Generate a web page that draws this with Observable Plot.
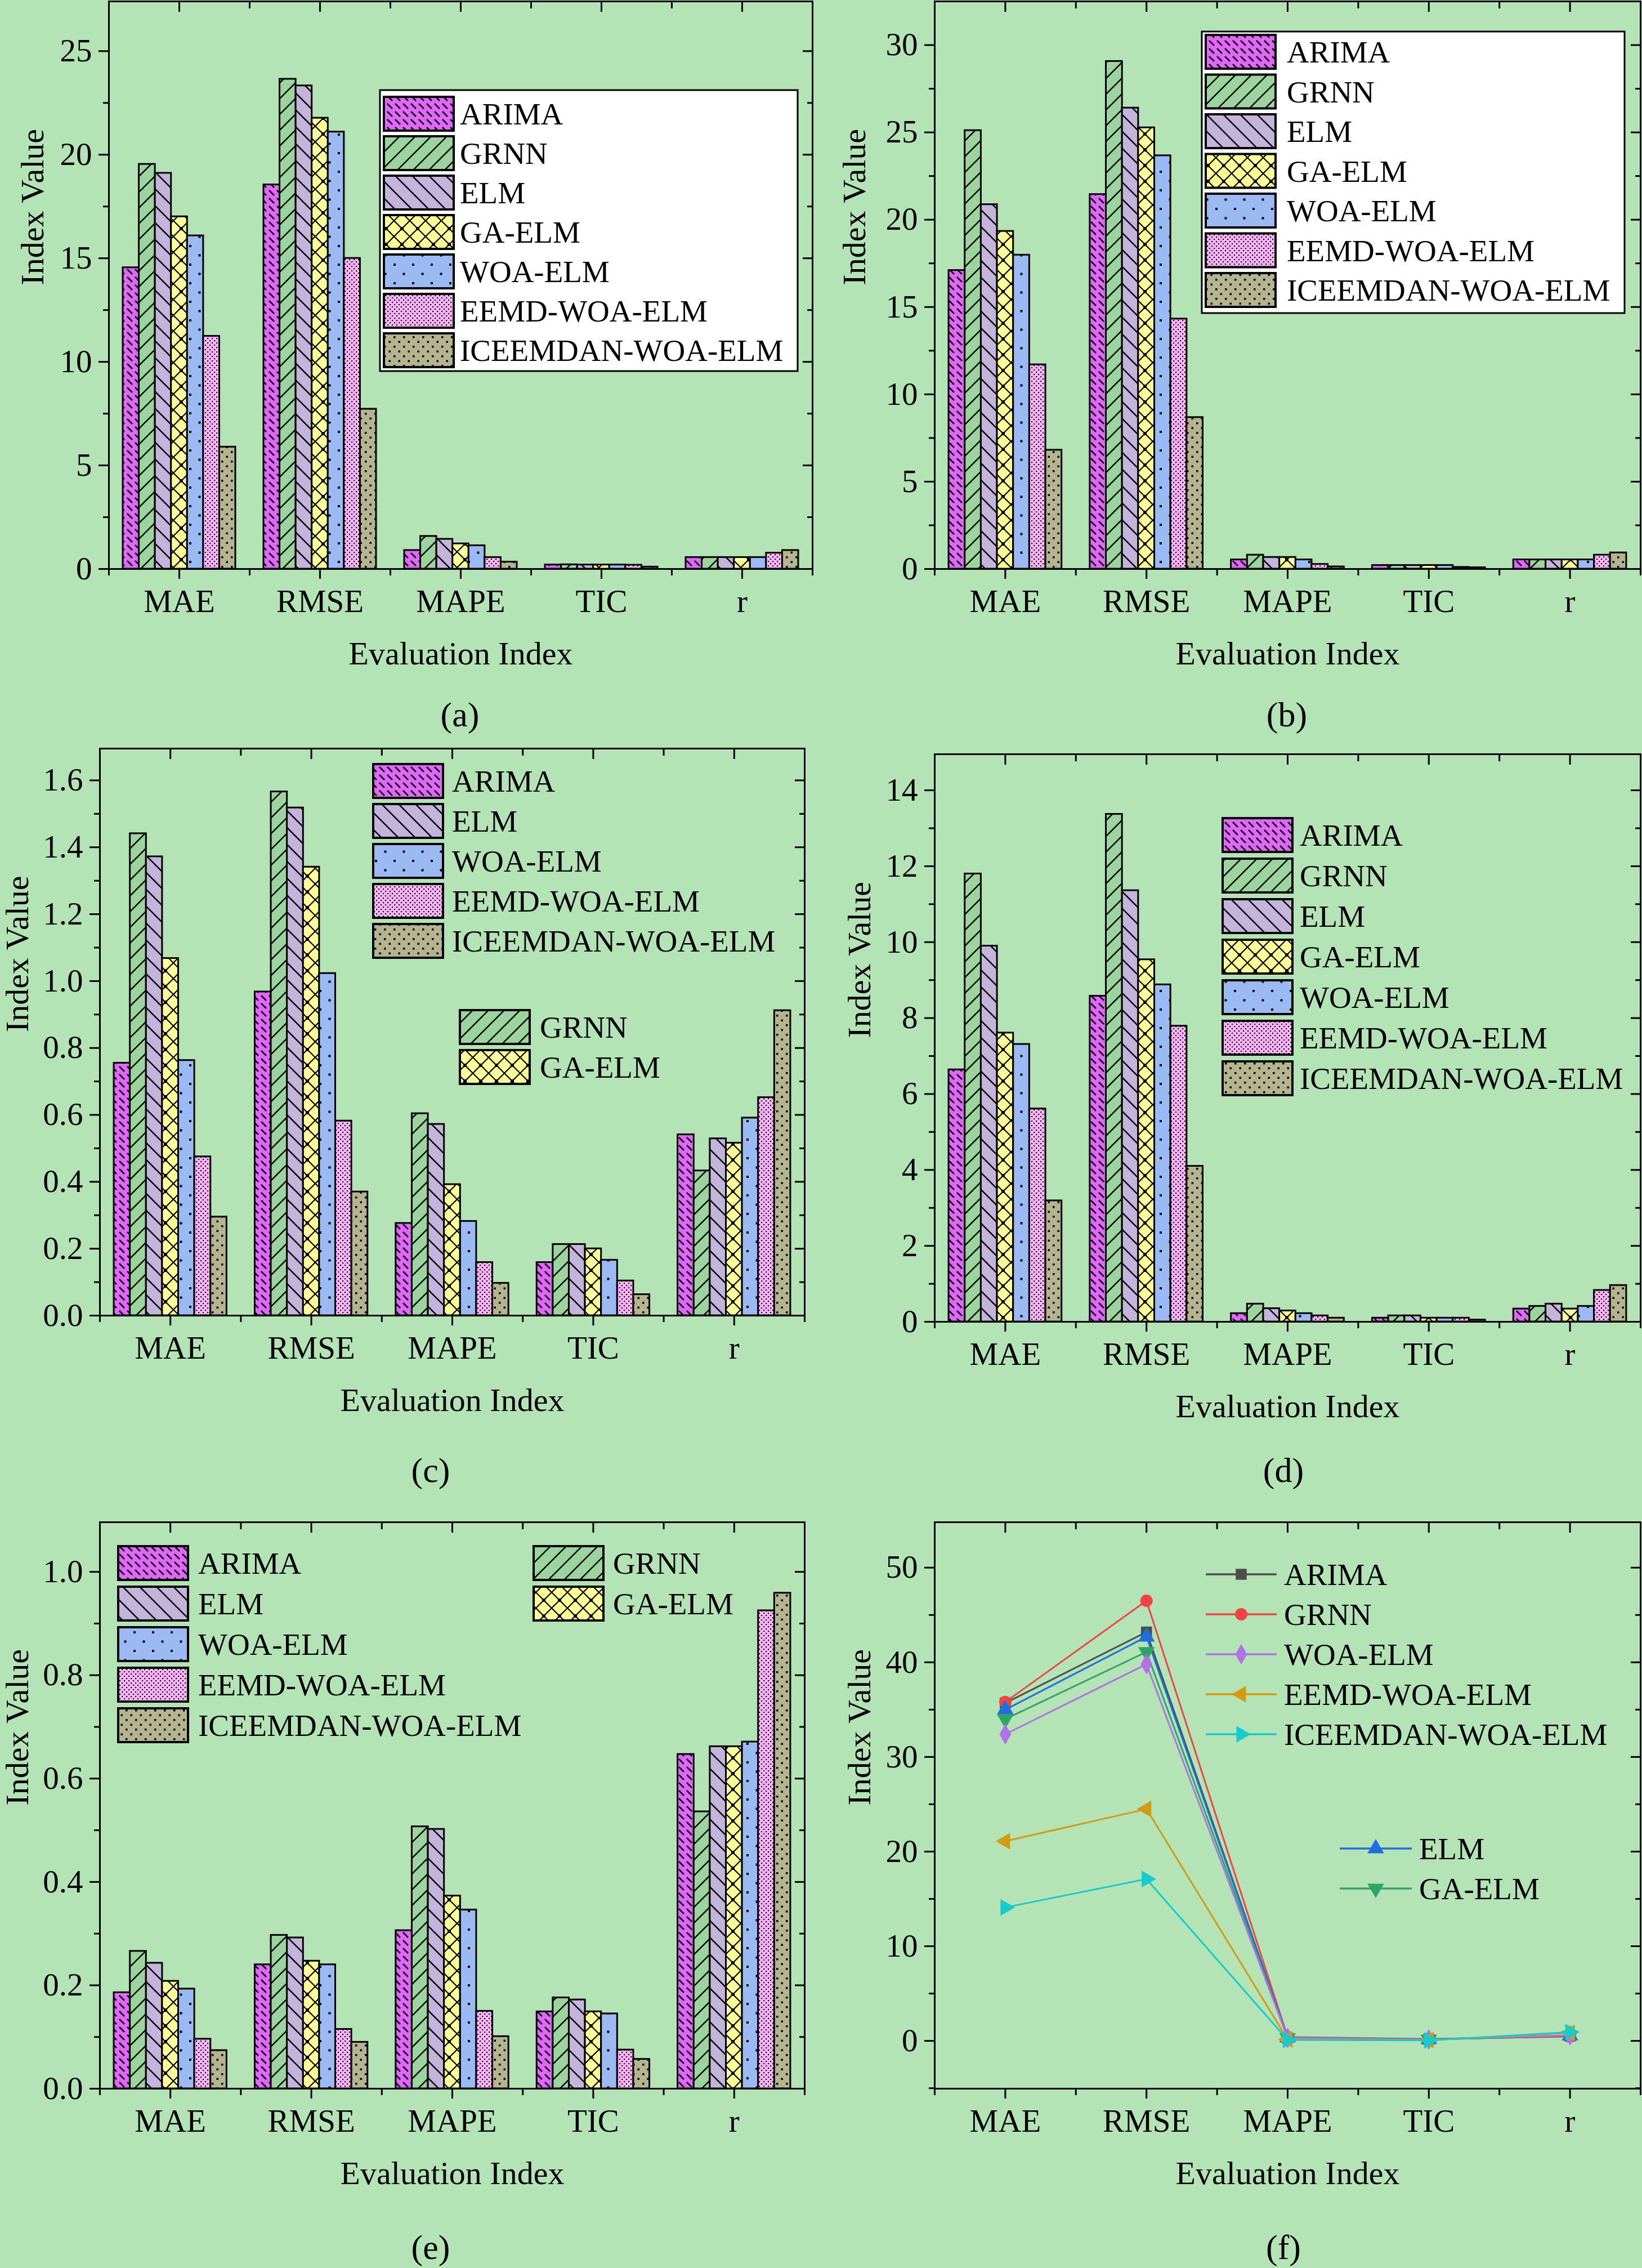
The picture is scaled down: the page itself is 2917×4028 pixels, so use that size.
<!DOCTYPE html>
<html>
<head>
<meta charset="utf-8">
<script src="https://cdn.jsdelivr.net/npm/d3@7"></script>
<script src="https://cdn.jsdelivr.net/npm/@observablehq/plot@0.6"></script>
<style>
  html, body { margin: 0; padding: 0; background: #b4e4b6; }
  body { width: 2917px; height: 4028px; position: relative; overflow: hidden;
         font-family: "Liberation Serif", "Times New Roman", serif; color: #000; }
  .panel { position: absolute; }
  .panel svg { overflow: visible; display: block; }
  .cap { position: absolute; font-size: 62px; transform: translate(-50%, -50%); white-space: nowrap; }
</style>
</head>
<body>
<script>
const FONT = '"Liberation Serif", "Times New Roman", serif';

const METRICS = ["MAE", "RMSE", "MAPE", "TIC", "r"];
const MODELS = ["ARIMA", "GRNN", "ELM", "GA-ELM", "WOA-ELM", "EEMD-WOA-ELM", "ICEEMDAN-WOA-ELM"];

// one row per model (MODELS order), one column per metric (METRICS order)
const valuesA = [
  [14.55, 18.55, 0.90, 0.20, 0.56],
  [19.54, 23.65, 1.58, 0.21, 0.56],
  [19.11, 23.33, 1.44, 0.20, 0.56],
  [17.01, 21.77, 1.22, 0.20, 0.56],
  [16.09, 21.10, 1.13, 0.20, 0.56],
  [11.24, 15.00, 0.56, 0.19, 0.77],
  [5.89, 7.72, 0.34, 0.10, 0.90],
];
const valuesB = [
  [17.10, 21.45, 0.53, 0.21, 0.53],
  [25.11, 29.07, 0.80, 0.21, 0.53],
  [20.87, 26.40, 0.67, 0.21, 0.53],
  [19.34, 25.27, 0.67, 0.21, 0.53],
  [17.98, 23.67, 0.53, 0.21, 0.53],
  [11.70, 14.32, 0.27, 0.10, 0.80],
  [6.81, 8.68, 0.13, 0.08, 0.93],
];
const valuesC = [
  [0.755, 0.968, 0.276, 0.159, 0.541],
  [1.441, 1.566, 0.604, 0.213, 0.433],
  [1.372, 1.518, 0.572, 0.213, 0.529],
  [1.068, 1.341, 0.392, 0.200, 0.516],
  [0.763, 1.023, 0.282, 0.166, 0.591],
  [0.475, 0.582, 0.159, 0.104, 0.652],
  [0.295, 0.370, 0.097, 0.063, 0.912],
];
const valuesD = [
  [6.64, 8.58, 0.22, 0.10, 0.34],
  [11.80, 13.37, 0.47, 0.16, 0.41],
  [9.90, 11.36, 0.35, 0.16, 0.47],
  [7.61, 9.54, 0.29, 0.10, 0.34],
  [7.31, 8.88, 0.22, 0.10, 0.41],
  [5.61, 7.79, 0.16, 0.10, 0.83],
  [3.19, 4.10, 0.10, 0.05, 0.96],
];
const valuesE = [
  [0.186, 0.240, 0.306, 0.149, 0.647],
  [0.266, 0.297, 0.507, 0.176, 0.536],
  [0.243, 0.292, 0.502, 0.172, 0.662],
  [0.208, 0.247, 0.373, 0.149, 0.662],
  [0.193, 0.240, 0.346, 0.145, 0.671],
  [0.096, 0.115, 0.150, 0.075, 0.925],
  [0.074, 0.090, 0.101, 0.057, 0.959],
];
const valuesF = [
  [35.7, 43.2, 0.30, 0.15, 0.50],
  [35.8, 46.5, 0.40, 0.20, 0.45],
  [35.0, 42.7, 0.35, 0.18, 0.55],
  [34.0, 41.1, 0.30, 0.15, 0.55],
  [32.4, 39.8, 0.30, 0.14, 0.60],
  [21.1, 24.5, 0.15, 0.08, 0.85],
  [14.1, 17.1, 0.10, 0.05, 0.93],
];

// styling
const BAR_COLORS = ["#e066fc", "#9cd49d", "#c4b3da", "#ffff99", "#9bbaf3", "#ffb3fb", "#b4b48e"];
const LINE_COLORS = ["#4d4d4d", "#f04444", "#1f6fe0", "#2fa466", "#b072e4", "#d49a12", "#14cccc"];

const tri = angle => ({
  draw(ctx, size) {
    const R = Math.sqrt(size / 1.299);
    for (let k = 0; k < 3; k++) {
      const a = angle + k * 2 * Math.PI / 3;
      if (k === 0) ctx.moveTo(R * Math.cos(a), R * Math.sin(a));
      else ctx.lineTo(R * Math.cos(a), R * Math.sin(a));
    }
    ctx.closePath();
  }
});
const LINE_SYMBOLS = [d3.symbolSquare, d3.symbolCircle, tri(-Math.PI / 2), tri(Math.PI / 2),
                      d3.symbolDiamond, tri(Math.PI), tri(0)];

const fmtInt = d3.format("d");
const fmt1 = d3.format(".1f");
const stepRange = (a, b, s) => d3.range(0, Math.round((b - a) / s) + 1).map(i => +(a + i * s).toFixed(4));

const PANELS = [
  { id: "a", values: valuesA, left: 0, top: 0, width: 1458, height: 1200, mt: 2, mb: 190, ml: 193, mr: 15,
    y: [0, 27.4], major: stepRange(0, 25, 5), minor: stepRange(2.5, 22.5, 5), fmt: fmtInt, yTitleDx: -135,
    box: { x: 675, y: 160, w: 742, h: 499 },
    legends: [{ items: [0, 1, 2, 3, 4, 5, 6], x: 682, y: 172, pitch: 70, tx: 817 }],
    cap: "(a)", cx: 817, cy: 1269 },
  { id: "b", values: valuesB, left: 1460, top: 0, width: 1457, height: 1200, mt: 2, mb: 190, ml: 200, mr: 3,
    y: [0, 32.5], major: stepRange(0, 30, 5), minor: stepRange(2.5, 27.5, 5), fmt: fmtInt, yTitleDx: -142,
    box: { x: 675, y: 56, w: 751, h: 500 },
    legends: [{ items: [0, 1, 2, 3, 4, 5, 6], x: 682, y: 62, pitch: 70.5, tx: 826 }],
    cap: "(b)", cx: 2286, cy: 1269 },
  { id: "c", values: valuesC, left: 0, top: 1290, width: 1458, height: 1240, mt: 39, mb: 194, ml: 177, mr: 29,
    y: [0, 1.695], major: stepRange(0, 1.6, 0.2), minor: stepRange(0.1, 1.5, 0.2), fmt: fmt1, yTitleDx: -146,
    legends: [{ items: [0, 2, 4, 5, 6], x: 663, y: 67, pitch: 71, tx: 803 },
              { items: [1, 3], x: 817, y: 504, pitch: 71, tx: 959 }],
    cap: "(c)", cx: 765, cy: 2611 },
  { id: "d", values: valuesD, left: 1460, top: 1290, width: 1457, height: 1240, mt: 49, mb: 183, ml: 200, mr: 3,
    y: [0, 14.95], major: stepRange(0, 14, 2), minor: stepRange(1, 13, 2), fmt: fmtInt, yTitleDx: -133,
    legends: [{ items: [0, 1, 2, 3, 4, 5, 6], x: 712, y: 163, pitch: 72, tx: 849 }],
    cap: "(d)", cx: 2280, cy: 2611 },
  { id: "e", values: valuesE, left: 0, top: 2660, width: 1458, height: 1250, mt: 43, mb: 201, ml: 177, mr: 29,
    y: [0, 1.096], major: stepRange(0, 1, 0.2), minor: stepRange(0.1, 0.9, 0.2), fmt: fmt1, yTitleDx: -146,
    legends: [{ items: [0, 2, 4, 5, 6], x: 210, y: 86, pitch: 72, tx: 352 },
              { items: [1, 3], x: 948, y: 86, pitch: 72, tx: 1089 }],
    cap: "(e)", cx: 765, cy: 3991 },
  { id: "f", line: true, values: valuesF, left: 1460, top: 2660, width: 1457, height: 1250, mt: 43, mb: 201, ml: 200, mr: 3,
    y: [-5.05, 54.8], major: stepRange(0, 50, 10), minor: stepRange(-5, 45, 10), fmt: fmtInt, yTitleDx: -133,
    lineLegends: [{ items: [0, 1, 4, 5, 6], x1: 682, x2: 808, y: 136, pitch: 71, tx: 821 },
                  { items: [2, 3], x1: 920, x2: 1048, y: 623, pitch: 71, tx: 1061 }],
    cap: "(f)", cx: 2280, cy: 3991 },
];

function toRows(values) {
  const w = 0.8 / MODELS.length;
  return values.flatMap((row, i) => row.map((v, j) => ({
    i, j, model: MODELS[i], metric: METRICS[j], value: v,
    x1: j - 0.4 + i * w, x2: j - 0.4 + (i + 1) * w,
  })));
}

function axes(cfg) {
  const xMajor = d3.range(5);
  const xMinor = stepRange(-0.5, 4.5, 1);
  const none = () => "";
  const c = { label: null, strokeWidth: 3 };
  return [
    Plot.axisY({ ...c, anchor: "left", ticks: cfg.major, tickSize: 18, tickPadding: 12, tickFormat: cfg.fmt }),
    Plot.axisY({ ...c, anchor: "left", ticks: cfg.minor, tickSize: 10, tickFormat: none }),
    Plot.axisY({ ...c, anchor: "right", ticks: cfg.major, tickSize: 18, dx: -18, tickFormat: none }),
    Plot.axisY({ ...c, anchor: "right", ticks: cfg.minor, tickSize: 10, dx: -10, tickFormat: none }),
    Plot.axisX({ ...c, anchor: "bottom", ticks: xMajor, tickSize: 18, tickPadding: 18, tickFormat: i => METRICS[i] }),
    Plot.axisX({ ...c, anchor: "bottom", ticks: xMinor, tickSize: 12, tickFormat: none }),
    Plot.axisX({ ...c, anchor: "top", ticks: xMajor, tickSize: 18, dy: 18, tickFormat: none }),
    Plot.axisX({ ...c, anchor: "top", ticks: xMinor, tickSize: 12, dy: 12, tickFormat: none }),
  ];
}

function addPatterns(svg, id) {
  const defs = d3.select(svg).append("defs");
  const pat = (i, w, h) => {
    const p = defs.append("pattern").attr("id", `${id}-p${i}`)
      .attr("patternUnits", "userSpaceOnUse").attr("width", w).attr("height", h);
    p.append("rect").attr("width", w).attr("height", h).attr("fill", BAR_COLORS[i]);
    return p;
  };
  const ln = (p, d, sw = 2.5) => p.append("path").attr("d", d).attr("stroke", "#000")
    .attr("stroke-width", sw).attr("fill", "none");
  const sq = (p, x, y, s) => p.append("rect").attr("x", x).attr("y", y).attr("width", s).attr("height", s).attr("fill", "#000");
  // ARIMA: short backslash dashes
  ln(pat(0, 14, 14), "M2,2L11,11", 2.5);
  // GRNN: forward diagonals
  ln(pat(1, 28, 28), "M-7,7L7,-7M0,28L28,0M21,35L35,21");
  // ELM: back diagonals
  ln(pat(2, 30, 30), "M-8,22L8,38M0,0L30,30M22,-8L38,8");
  // GA-ELM: crosshatch with knots
  const g = pat(3, 28, 28);
  ln(g, "M0,0L28,28M28,0L0,28", 2.2);
  sq(g, 11, 11, 6);
  // WOA-ELM: sparse staggered dots
  const w = pat(4, 33, 33);
  sq(w, 6, 6, 4); sq(w, 22.5, 22.5, 4);
  // EEMD-WOA-ELM: fine checker
  const e = pat(5, 8, 8);
  sq(e, 0, 0, 2.2); sq(e, 4, 4, 2.2);
  // ICEEMDAN-WOA-ELM: fine staggered dots
  const ic = pat(6, 17, 17);
  sq(ic, 2, 2, 3.5); sq(ic, 10.5, 10.5, 3.5);
}

function drawBarLegend(svg, cfg) {
  const g = d3.select(svg).append("g").attr("font-family", FONT).attr("font-size", 55)
    .attr("fill", "#000").attr("text-anchor", "start");
  if (cfg.box) {
    g.append("rect").attr("x", cfg.box.x).attr("y", cfg.box.y).attr("width", cfg.box.w).attr("height", cfg.box.h)
      .attr("fill", "#fff").attr("stroke", "#000").attr("stroke-width", 3);
  }
  for (const L of cfg.legends) {
    L.items.forEach((m, k) => {
      const y = L.y + k * L.pitch;
      g.append("rect").attr("x", L.x).attr("y", y).attr("width", 124).attr("height", 60)
        .attr("fill", `url(#${cfg.id}-p${m})`).attr("stroke", "#000").attr("stroke-width", 4);
      g.append("text").attr("x", L.tx).attr("y", y + 30 + 19).attr("text-anchor", "start").text(MODELS[m]);
    });
  }
}

function drawLineLegend(svg, cfg) {
  const g = d3.select(svg).append("g").attr("font-family", FONT).attr("font-size", 55)
    .attr("fill", "#000").attr("text-anchor", "start");
  for (const L of cfg.lineLegends) {
    L.items.forEach((m, k) => {
      const y = L.y + k * L.pitch;
      g.append("line").attr("x1", L.x1).attr("x2", L.x2).attr("y1", y).attr("y2", y)
        .attr("stroke", LINE_COLORS[m]).attr("stroke-width", 3.5);
      g.append("path").attr("transform", `translate(${(L.x1 + L.x2) / 2},${y})`)
        .attr("d", d3.symbol(LINE_SYMBOLS[m], Math.PI * 11 * 11)()).attr("fill", LINE_COLORS[m]);
      g.append("text").attr("x", L.tx).attr("y", y + 19).attr("text-anchor", "start").text(MODELS[m]);
    });
  }
}

function render(cfg) {
  const rows = toRows(cfg.values);
  const dataMarks = cfg.line
    ? MODELS.flatMap((m, i) => {
        const r = rows.filter(d => d.i === i);
        return [
          Plot.line(r, { x: "j", y: "value", stroke: LINE_COLORS[i], strokeWidth: 3 }),
          Plot.dot(r, { x: "j", y: "value", fill: LINE_COLORS[i], symbol: LINE_SYMBOLS[i], r: 11, stroke: "none" }),
        ];
      })
    : MODELS.map((m, i) => Plot.rectY(rows.filter(d => d.i === i), {
        x1: "x1", x2: "x2", y: "value",
        fill: `url(#${cfg.id}-p${i})`, stroke: "#000", strokeWidth: 3,
      }));

  const plot = Plot.plot({
    width: cfg.width,
    height: cfg.height,
    marginTop: cfg.mt,
    marginBottom: cfg.mb,
    marginLeft: cfg.ml,
    marginRight: cfg.mr,
    x: { domain: [-0.5, 4.5] },
    y: { domain: cfg.y },
    style: { background: "transparent", fontFamily: FONT, fontSize: "57px", color: "#000" },
    marks: [
      ...dataMarks,
      Plot.frame({ stroke: "#000", strokeWidth: 3 }),
      ...axes(cfg),
      Plot.text(["Evaluation Index"], { text: d => d, frameAnchor: "bottom", dy: 169, fontSize: 58 }),
      Plot.text(["Index Value"], { text: d => d, frameAnchor: "left", dx: cfg.yTitleDx, rotate: -90, fontSize: 58 }),
    ],
  });

  if (!cfg.line) {
    addPatterns(plot, cfg.id);
    drawBarLegend(plot, cfg);
  } else {
    drawLineLegend(plot, cfg);
  }

  const div = document.createElement("div");
  div.className = "panel";
  div.style.left = cfg.left + "px";
  div.style.top = cfg.top + "px";
  div.append(plot);
  document.body.append(div);

  const cap = document.createElement("div");
  cap.className = "cap";
  cap.style.left = cfg.cx + "px";
  cap.style.top = cfg.cy + "px";
  cap.textContent = cfg.cap;
  document.body.append(cap);
}

PANELS.forEach(render);
</script>
</body>
</html>
